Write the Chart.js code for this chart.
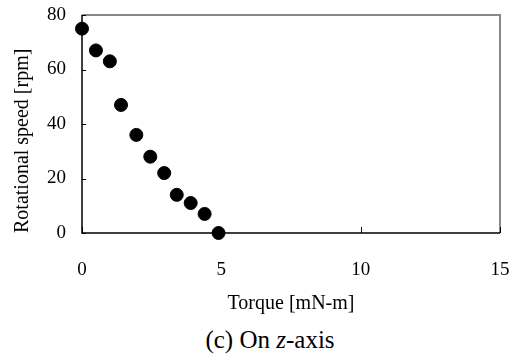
<!DOCTYPE html>
<html>
<head>
<meta charset="utf-8">
<script src="https://cdn.jsdelivr.net/npm/chart.js@4/dist/chart.umd.min.js"></script>
<style>
    body { margin: 0; background: #fff; }
    #wrap { position: relative; width: 515px; height: 318px; }
    #caption {
        position: absolute; left: 0; top: 326px; width: 540px;
        text-align: center; font-family: "Liberation Serif", "Times New Roman", serif; font-size: 25px; color: #000;
    }
</style>
</head>
<body>
<div id="wrap"><canvas id="chart"></canvas></div>
<div id="caption">(c) On <i>z</i>-axis</div>
<script>
// Torque [mN-m] vs rotational speed [rpm]
const torque = [0, 0.5, 1.0, 1.4, 1.95, 2.45, 2.95, 3.4, 3.9, 4.4, 4.9];
const speed = [75, 67, 63, 47, 36, 28, 22, 14, 11, 7, 0];
const xTicks = [0, 5, 10, 15];
const yTicks = [0, 20, 40, 60, 80];

const serif = "'Liberation Serif', 'Times New Roman', serif";

// frame with inward tick marks
const framePlugin = {
    id: 'frame',
    afterDraw(chart) {
        const ctx = chart.ctx;
        const a = chart.chartArea;
        const xs = chart.scales.x;
        const ys = chart.scales.y;
        ctx.save();
        // top + right
        ctx.strokeStyle = '#888';
        ctx.lineWidth = 2;
        ctx.beginPath();
        ctx.moveTo(a.left, a.top);
        ctx.lineTo(a.right, a.top);
        ctx.lineTo(a.right, a.bottom);
        ctx.stroke();
        // left + bottom axes
        ctx.strokeStyle = '#000';
        ctx.lineWidth = 1.5;
        ctx.beginPath();
        ctx.moveTo(a.left, a.top);
        ctx.lineTo(a.left, a.bottom);
        ctx.lineTo(a.right, a.bottom);
        ctx.stroke();
        ctx.lineWidth = 1;
        ctx.beginPath();
        yTicks.forEach(v => {
            const y = Math.round(ys.getPixelForValue(v)) + 0.5;
            ctx.moveTo(a.left, y);
            ctx.lineTo(a.left + 4, y);
        });
        xTicks.forEach(v => {
            const x = Math.round(xs.getPixelForValue(v)) + 0.5;
            ctx.moveTo(x, a.bottom);
            ctx.lineTo(x, a.bottom - 6);
        });
        ctx.stroke();
        ctx.restore();
    }
};

new Chart(document.getElementById('chart'), {
    type: 'scatter',
    data: {
        datasets: [{
            data: torque.map((t, i) => ({ x: t, y: speed[i] })),
            backgroundColor: '#000',
            borderColor: '#000',
            pointRadius: 6.5,
            pointHoverRadius: 6.5,
            clip: false
        }]
    },
    options: {
        responsive: true,
        maintainAspectRatio: false,
        animation: false,
        layout: { padding: { top: 15, right: 15 } },
        plugins: {
            legend: { display: false },
            tooltip: { enabled: false }
        },
        scales: {
            x: {
                type: 'linear',
                min: 0,
                max: 15,
                afterBuildTicks: s => { s.ticks = xTicks.map(v => ({ value: v })); },
                afterFit: s => { s.height = 85; s.paddingLeft = 0; s.paddingRight = 0; },
                grid: { display: false },
                border: { display: false },
                ticks: { color: '#000', padding: 18, font: { family: serif, size: 19 } },
                title: {
                    display: true,
                    text: 'Torque [mN-m]',
                    color: '#000',
                    padding: { top: 0, bottom: 2 },
                    font: { family: serif, size: 20 }
                }
            },
            y: {
                min: 0,
                max: 80,
                afterBuildTicks: s => { s.ticks = yTicks.map(v => ({ value: v })); },
                afterFit: s => { s.width = 82; s.paddingTop = 0; s.paddingBottom = 0; },
                grid: { display: false },
                border: { display: false },
                ticks: { color: '#000', padding: 8, font: { family: serif, size: 19 } },
                title: {
                    display: true,
                    text: 'Rotational speed [rpm]',
                    align: 'start',
                    color: '#000',
                    padding: { top: 11, bottom: 0 },
                    font: { family: serif, size: 20 }
                }
            }
        }
    },
    plugins: [framePlugin]
});
</script>
</body>
</html>
